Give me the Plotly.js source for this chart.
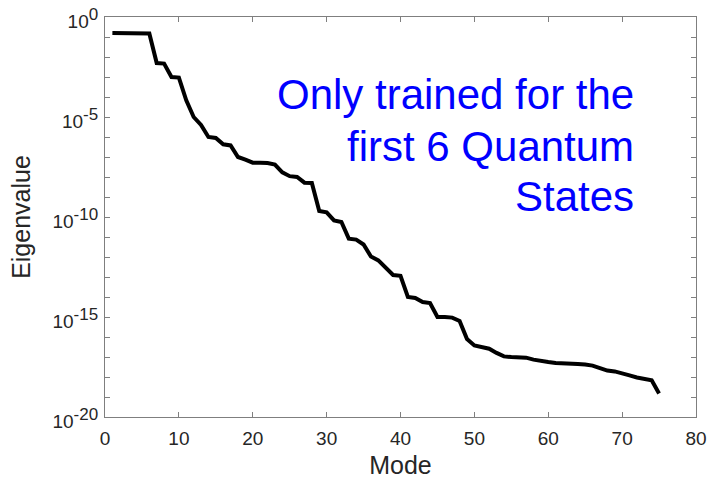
<!DOCTYPE html>
<html>
<head>
<meta charset="utf-8">
<script src="https://cdn.plot.ly/plotly-3.0.1.min.js"></script>
<style>html,body{margin:0;padding:0;background:#fff;}#chart{width:710px;height:482px;}</style>
</head>
<body>
<div id="chart"></div>
<script>
const modes = [1,2,3,4,5,6,7,8,9,10,11,12,13,14,15,16,17,18,19,20,21,22,23,24,25,26,27,28,29,30,31,32,33,34,35,36,37,38,39,40,41,42,43,44,45,46,47,48,49,50,51,52,53,54,55,56,57,58,59,60,61,62,63,64,65,66,67,68,69,70,71,72,73,74,75];
const eigenvalues = [1.6e-1,1.6e-1,1.6e-1,1.55e-1,1.5e-1,1.5e-1,5.0e-3,4.7e-3,1.0e-3,9.3e-4,
  6.8e-5,1.0e-5,4.0e-6,1.0e-6,8.9e-7,4.3e-7,3.8e-7,1.0e-7,7.4e-8,5.2e-8,
  5.2e-8,5.0e-8,4.2e-8,1.7e-8,1.1e-8,1.0e-8,5.2e-9,5.0e-9,2.0e-10,1.7e-10,
  6.8e-11,5.6e-11,8.3e-12,7.4e-12,4.2e-12,1.05e-12,6.8e-13,2.9e-13,1.26e-13,1.15e-13,
  1.0e-14,8.9e-15,5.6e-15,5.0e-15,1.0e-15,1.0e-15,9.3e-16,6.3e-16,7.9e-17,3.8e-17,
  3.2e-17,2.6e-17,1.6e-17,1.07e-17,1.0e-17,9.5e-18,9.3e-18,7.4e-18,6.8e-18,5.6e-18,
  5.0e-18,5.0e-18,4.7e-18,4.5e-18,4.2e-18,3.7e-18,2.8e-18,2.1e-18,1.9e-18,1.6e-18,
  1.2e-18,9.5e-19,8.3e-19,6.8e-19,1.5e-19];
const xTickVals = [0,10,20,30,40,50,60,70,80];
const yTickVals = [1e-20,1e-15,1e-10,1e-5,1];
const yTickBase = ['10','10','10','10','10'];
const yTickExp = ['-20','-15','-10','-5','0'];
const noteLines = ['Only trained for the','first 6 Quantum','States'];

const font = 'Arial, "Liberation Sans", sans-serif';
const axisColor = '#7f7f7f';
const textColor = '#262626';

const yTickText = yTickBase.map((b, i) =>
  b + '<sup><span style="font-size:17px">' + yTickExp[i] + '</span></sup>');

const trace = {
  x: modes, y: eigenvalues, type: 'scatter', mode: 'lines',
  line: {color: '#000000', width: 4}, hoverinfo: 'skip'
};

const noteY = [0.805, 0.677, 0.550];
const annotations = noteLines.map((t, i) => ({
  text: t, xref: 'paper', yref: 'paper', x: 0.898, y: noteY[i],
  xanchor: 'right', yanchor: 'middle', showarrow: false,
  font: {family: font, size: 42, color: '#0000ff'}
}));

const layout = {
  width: 710, height: 482,
  margin: {l: 105, r: 14, t: 17, b: 65},
  paper_bgcolor: '#ffffff', plot_bgcolor: '#ffffff',
  showlegend: false,
  font: {family: font, color: textColor},
  xaxis: {
    range: [0, 80], tickvals: xTickVals, ticks: 'inside', ticklen: 5,
    tickcolor: axisColor, showline: true, linecolor: axisColor, linewidth: 1,
    mirror: 'ticks', showgrid: false, zeroline: false,
    ticklabelstandoff: 4,
    tickfont: {size: 19, color: textColor},
    title: {text: 'Mode', font: {size: 25, color: textColor}, standoff: 8}
  },
  yaxis: {
    type: 'log', range: [-20, 0], tickvals: yTickVals, ticktext: yTickText,
    ticks: 'inside', ticklen: 5, tickcolor: axisColor,
    showline: true, linecolor: axisColor, linewidth: 1, mirror: 'ticks',
    showgrid: false, zeroline: false,
    minor: {dtick: 1, ticks: 'inside', ticklen: 5, tickcolor: axisColor, showgrid: false},
    ticklabelstandoff: 2,
    ticklabelshift: 4,
    tickfont: {size: 19, color: textColor},
    title: {text: 'Eigenvalue', font: {size: 25, color: textColor}, standoff: 14}
  },
  annotations: annotations
};

Plotly.newPlot('chart', [trace], layout, {staticPlot: true, displayModeBar: false});
</script>
</body>
</html>
